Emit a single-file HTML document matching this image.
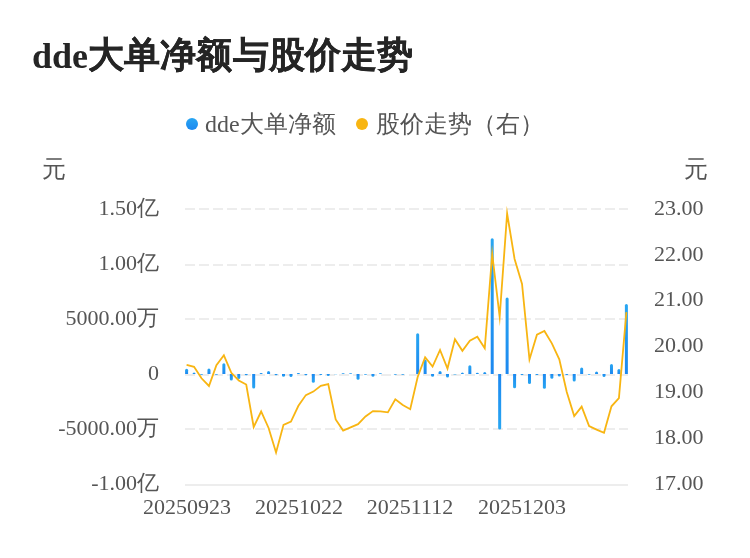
<!DOCTYPE html>
<html><head><meta charset="utf-8"><style>
html,body{margin:0;padding:0;background:#fff;}
body{width:750px;height:558px;position:relative;overflow:hidden;font-family:"Liberation Serif",serif;}
.t{position:absolute;white-space:nowrap;line-height:1;will-change:transform;}
#title{left:32.3px;top:38px;font-size:36px;font-weight:bold;color:#252525;}
.cj{position:relative;top:-0.6px;letter-spacing:0.14px;-webkit-text-stroke:0.3px #252525;}
.lg{font-size:24px;color:#555;top:112px;}
.dot{position:absolute;width:12px;height:12px;border-radius:50%;top:118px;}
.yl{font-size:22px;color:#555;text-align:right;width:150px;}
.yr{font-size:22px;color:#555;}
.xl{font-size:22px;color:#555;top:496.3px;text-align:center;width:120px;}
.unit{font-size:24px;color:#555;top:157px;}
svg{position:absolute;left:0;top:0;}
</style></head><body>
<div class="t" id="title">dde<span class="cj">大单净额与股价走势</span></div>
<div class="dot" style="left:186px;background:linear-gradient(#28A6F2,#1C88F0)"></div>
<div class="t lg" style="left:205px">dde大单净额</div>
<div class="dot" style="left:356px;background:#F8B512"></div>
<div class="t lg" style="left:376px">股价走势（右）</div>
<div class="t unit" style="left:42px">元</div>
<div class="t unit" style="left:684px">元</div>
<div class="t yl" style="left:9px;top:196.8px">1.50亿</div>
<div class="t yl" style="left:9px;top:252px">1.00亿</div>
<div class="t yl" style="left:9px;top:307.2px">5000.00万</div>
<div class="t yl" style="left:9px;top:362.4px">0</div>
<div class="t yl" style="left:9px;top:417px">-5000.00万</div>
<div class="t yl" style="left:9px;top:472px">-1.00亿</div>
<div class="t yr" style="left:654px;top:197px">23.00</div>
<div class="t yr" style="left:654px;top:243px">22.00</div>
<div class="t yr" style="left:654px;top:288px">21.00</div>
<div class="t yr" style="left:654px;top:334px">20.00</div>
<div class="t yr" style="left:654px;top:380px">19.00</div>
<div class="t yr" style="left:654px;top:426px">18.00</div>
<div class="t yr" style="left:654px;top:472px">17.00</div>
<div class="t xl" style="left:127px">20250923</div>
<div class="t xl" style="left:239px">20251022</div>
<div class="t xl" style="left:350px">20251112</div>
<div class="t xl" style="left:462px">20251203</div>
<svg width="750" height="558" viewBox="0 0 750 558">
<defs>
<linearGradient id="gp" x1="0" y1="1" x2="0" y2="0"><stop offset="0" stop-color="#1C88F0"/><stop offset="1" stop-color="#28A6F2"/></linearGradient>
<linearGradient id="gn" x1="0" y1="0" x2="0" y2="1"><stop offset="0" stop-color="#1C88F0"/><stop offset="1" stop-color="#28A6F2"/></linearGradient>
</defs>
<line x1="185" y1="209" x2="628" y2="209" stroke="#EDEDED" stroke-width="2" stroke-dasharray="10 4"/><line x1="185" y1="265" x2="628" y2="265" stroke="#EDEDED" stroke-width="2" stroke-dasharray="10 4"/><line x1="185" y1="319" x2="628" y2="319" stroke="#EDEDED" stroke-width="2" stroke-dasharray="10 4"/><line x1="185" y1="375" x2="628" y2="375" stroke="#EDEDED" stroke-width="2" stroke-dasharray="10 4"/><line x1="185" y1="429" x2="628" y2="429" stroke="#EDEDED" stroke-width="2" stroke-dasharray="10 4"/><line x1="185" y1="485" x2="628" y2="485" stroke="#EDEDED" stroke-width="2"/>
<path d="M185.10,374.00V370.20Q185.10,368.70 186.60,368.70H186.60Q188.10,368.70 188.10,370.20V374.00Z" fill="url(#gp)"/><path d="M192.55,374.00V374.00Q192.55,372.50 194.05,372.50H194.05Q195.55,372.50 195.55,374.00V374.00Z" fill="url(#gp)"/><path d="M207.46,374.00V369.90Q207.46,368.40 208.96,368.40H208.96Q210.46,368.40 210.46,369.90V374.00Z" fill="url(#gp)"/><path d="M222.37,374.00V364.80Q222.37,363.30 223.87,363.30H223.87Q225.37,363.30 225.37,364.80V374.00Z" fill="url(#gp)"/><path d="M259.64,374.00V374.00Q259.64,373.00 260.64,373.00H261.64Q262.64,373.00 262.64,374.00V374.00Z" fill="url(#gp)"/><path d="M267.09,374.00V372.40Q267.09,370.90 268.59,370.90H268.59Q270.09,370.90 270.09,372.40V374.00Z" fill="url(#gp)"/><path d="M296.91,374.00V374.00Q296.91,373.10 297.81,373.10H299.01Q299.91,373.10 299.91,374.00V374.00Z" fill="url(#gp)"/><path d="M341.63,374.00V374.00Q341.63,373.20 342.43,373.20H343.83Q344.63,373.20 344.63,374.00V374.00Z" fill="url(#gp)"/><path d="M349.09,374.00V374.00Q349.09,373.20 349.89,373.20H351.29Q352.09,373.20 352.09,374.00V374.00Z" fill="url(#gp)"/><path d="M378.90,374.00V374.00Q378.90,373.20 379.70,373.20H381.10Q381.90,373.20 381.90,374.00V374.00Z" fill="url(#gp)"/><path d="M416.17,374.00V334.70Q416.17,333.20 417.67,333.20H417.67Q419.17,333.20 419.17,334.70V374.00Z" fill="url(#gp)"/><path d="M423.63,374.00V361.00Q423.63,359.50 425.13,359.50H425.13Q426.63,359.50 426.63,361.00V374.00Z" fill="url(#gp)"/><path d="M438.54,374.00V372.60Q438.54,371.10 440.04,371.10H440.04Q441.54,371.10 441.54,372.60V374.00Z" fill="url(#gp)"/><path d="M460.90,374.00V374.00Q460.90,372.50 462.40,372.50H462.40Q463.90,372.50 463.90,374.00V374.00Z" fill="url(#gp)"/><path d="M468.35,374.00V366.80Q468.35,365.30 469.85,365.30H469.85Q471.35,365.30 471.35,366.80V374.00Z" fill="url(#gp)"/><path d="M475.81,374.00V374.00Q475.81,372.70 477.11,372.70H477.51Q478.81,372.70 478.81,374.00V374.00Z" fill="url(#gp)"/><path d="M483.26,374.00V373.50Q483.26,372.00 484.76,372.00H484.76Q486.26,372.00 486.26,373.50V374.00Z" fill="url(#gp)"/><path d="M490.71,374.00V239.70Q490.71,238.20 492.21,238.20H492.21Q493.71,238.20 493.71,239.70V374.00Z" fill="url(#gp)"/><path d="M505.62,374.00V298.90Q505.62,297.40 507.12,297.40H507.12Q508.62,297.40 508.62,298.90V374.00Z" fill="url(#gp)"/><path d="M580.16,374.00V369.00Q580.16,367.50 581.66,367.50H581.66Q583.16,367.50 583.16,369.00V374.00Z" fill="url(#gp)"/><path d="M595.07,374.00V373.10Q595.07,371.60 596.57,371.60H596.57Q598.07,371.60 598.07,373.10V374.00Z" fill="url(#gp)"/><path d="M609.98,374.00V365.50Q609.98,364.00 611.48,364.00H611.48Q612.98,364.00 612.98,365.50V374.00Z" fill="url(#gp)"/><path d="M617.43,374.00V370.60Q617.43,369.10 618.93,369.10H618.93Q620.43,369.10 620.43,370.60V374.00Z" fill="url(#gp)"/><path d="M624.89,374.00V305.50Q624.89,304.00 626.39,304.00H626.39Q627.89,304.00 627.89,305.50V374.00Z" fill="url(#gp)"/><path d="M200.01,374.00V374.00Q200.01,374.80 200.81,374.80H202.21Q203.01,374.80 203.01,374.00V374.00Z" fill="url(#gn)"/><path d="M214.92,374.00V374.00Q214.92,374.80 215.72,374.80H217.12Q217.92,374.80 217.92,374.00V374.00Z" fill="url(#gn)"/><path d="M229.82,374.00V379.00Q229.82,380.50 231.32,380.50H231.32Q232.82,380.50 232.82,379.00V374.00Z" fill="url(#gn)"/><path d="M237.28,374.00V377.40Q237.28,378.90 238.78,378.90H238.78Q240.28,378.90 240.28,377.40V374.00Z" fill="url(#gn)"/><path d="M244.73,374.00V374.00Q244.73,375.20 245.93,375.20H246.53Q247.73,375.20 247.73,374.00V374.00Z" fill="url(#gn)"/><path d="M252.19,374.00V387.10Q252.19,388.60 253.69,388.60H253.69Q255.19,388.60 255.19,387.10V374.00Z" fill="url(#gn)"/><path d="M274.55,374.00V374.00Q274.55,375.20 275.75,375.20H276.35Q277.55,375.20 277.55,374.00V374.00Z" fill="url(#gn)"/><path d="M282.00,374.00V375.30Q282.00,376.80 283.50,376.80H283.50Q285.00,376.80 285.00,375.30V374.00Z" fill="url(#gn)"/><path d="M289.46,374.00V375.50Q289.46,377.00 290.96,377.00H290.96Q292.46,377.00 292.46,375.50V374.00Z" fill="url(#gn)"/><path d="M304.36,374.00V374.00Q304.36,375.20 305.56,375.20H306.16Q307.36,375.20 307.36,374.00V374.00Z" fill="url(#gn)"/><path d="M311.82,374.00V381.20Q311.82,382.70 313.32,382.70H313.32Q314.82,382.70 314.82,381.20V374.00Z" fill="url(#gn)"/><path d="M319.27,374.00V374.00Q319.27,375.00 320.27,375.00H321.27Q322.27,375.00 322.27,374.00V374.00Z" fill="url(#gn)"/><path d="M326.73,374.00V374.50Q326.73,376.00 328.23,376.00H328.23Q329.73,376.00 329.73,374.50V374.00Z" fill="url(#gn)"/><path d="M334.18,374.00V374.00Q334.18,374.30 334.48,374.30H336.88Q337.18,374.30 337.18,374.00V374.00Z" fill="url(#gn)"/><path d="M356.54,374.00V378.20Q356.54,379.70 358.04,379.70H358.04Q359.54,379.70 359.54,378.20V374.00Z" fill="url(#gn)"/><path d="M364.00,374.00V374.00Q364.00,374.80 364.80,374.80H366.20Q367.00,374.80 367.00,374.00V374.00Z" fill="url(#gn)"/><path d="M371.45,374.00V375.30Q371.45,376.80 372.95,376.80H372.95Q374.45,376.80 374.45,375.30V374.00Z" fill="url(#gn)"/><path d="M393.81,374.00V374.00Q393.81,374.80 394.61,374.80H396.01Q396.81,374.80 396.81,374.00V374.00Z" fill="url(#gn)"/><path d="M401.27,374.00V374.00Q401.27,374.80 402.07,374.80H403.47Q404.27,374.80 404.27,374.00V374.00Z" fill="url(#gn)"/><path d="M431.08,374.00V375.30Q431.08,376.80 432.58,376.80H432.58Q434.08,376.80 434.08,375.30V374.00Z" fill="url(#gn)"/><path d="M445.99,374.00V376.10Q445.99,377.60 447.49,377.60H447.49Q448.99,377.60 448.99,376.10V374.00Z" fill="url(#gn)"/><path d="M453.44,374.00V374.00Q453.44,374.50 453.94,374.50H455.94Q456.44,374.50 456.44,374.00V374.00Z" fill="url(#gn)"/><path d="M498.17,374.00V428.00Q498.17,429.50 499.67,429.50H499.67Q501.17,429.50 501.17,428.00V374.00Z" fill="url(#gn)"/><path d="M513.08,374.00V386.70Q513.08,388.20 514.58,388.20H514.58Q516.08,388.20 516.08,386.70V374.00Z" fill="url(#gn)"/><path d="M520.53,374.00V374.00Q520.53,375.00 521.53,375.00H522.53Q523.53,375.00 523.53,374.00V374.00Z" fill="url(#gn)"/><path d="M527.98,374.00V382.50Q527.98,384.00 529.48,384.00H529.48Q530.98,384.00 530.98,382.50V374.00Z" fill="url(#gn)"/><path d="M535.44,374.00V374.00Q535.44,375.00 536.44,375.00H537.44Q538.44,375.00 538.44,374.00V374.00Z" fill="url(#gn)"/><path d="M542.89,374.00V387.30Q542.89,388.80 544.39,388.80H544.39Q545.89,388.80 545.89,387.30V374.00Z" fill="url(#gn)"/><path d="M550.35,374.00V377.30Q550.35,378.80 551.85,378.80H551.85Q553.35,378.80 553.35,377.30V374.00Z" fill="url(#gn)"/><path d="M557.80,374.00V375.10Q557.80,376.60 559.30,376.60H559.30Q560.80,376.60 560.80,375.10V374.00Z" fill="url(#gn)"/><path d="M565.25,374.00V374.00Q565.25,375.00 566.25,375.00H567.25Q568.25,375.00 568.25,374.00V374.00Z" fill="url(#gn)"/><path d="M572.71,374.00V379.90Q572.71,381.40 574.21,381.40H574.21Q575.71,381.40 575.71,379.90V374.00Z" fill="url(#gn)"/><path d="M587.62,374.00V374.00Q587.62,374.80 588.42,374.80H589.82Q590.62,374.80 590.62,374.00V374.00Z" fill="url(#gn)"/><path d="M602.52,374.00V375.50Q602.52,377.00 604.02,377.00H604.02Q605.52,377.00 605.52,375.50V374.00Z" fill="url(#gn)"/>
<polyline points="186.60,364.90 194.05,366.80 201.51,378.30 208.96,386.00 216.42,365.20 223.87,355.30 231.32,372.80 238.78,380.50 246.23,384.50 253.69,427.00 261.14,411.50 268.59,428.00 276.05,452.50 283.50,424.80 290.96,421.60 298.41,405.80 305.86,395.10 313.32,391.60 320.77,385.80 328.23,384.10 335.68,419.50 343.13,430.60 350.59,427.40 358.04,424.20 365.50,416.40 372.95,411.10 380.40,411.40 387.86,412.40 395.31,399.40 402.77,405.00 410.22,409.20 417.67,377.00 425.13,357.20 432.58,366.50 440.04,350.00 447.49,368.50 454.94,339.20 462.40,350.80 469.85,340.80 477.31,336.80 484.76,348.30 492.21,254.00 499.67,316.80 507.12,213.50 514.58,259.00 522.03,284.00 529.48,359.50 536.94,334.70 544.39,331.00 551.85,343.30 559.30,359.30 566.75,392.00 574.21,416.10 581.66,406.60 589.12,426.00 596.57,429.60 604.02,432.80 611.48,406.30 618.93,398.20 626.39,312.20" fill="none" stroke="#F8B512" stroke-width="1.8" stroke-linejoin="miter" stroke-miterlimit="20"/>
</svg>
</body></html>
